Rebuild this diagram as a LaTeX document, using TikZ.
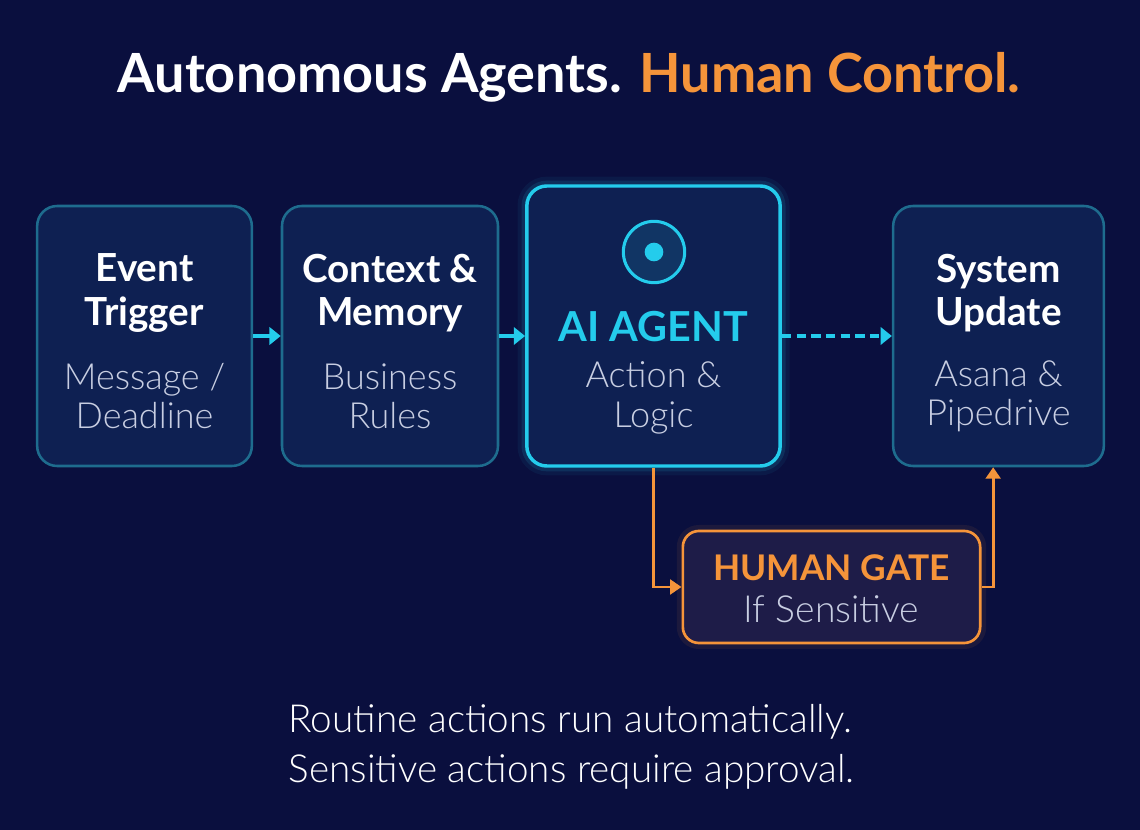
\documentclass[tikz,border=0pt]{standalone}
\usepackage{fontspec}
\setmainfont{Lato}
\newfontfamily\lightfont{Lato Light}
\usetikzlibrary{arrows.meta,positioning}

\definecolor{bgnavy}{RGB}{10,15,62}
\definecolor{cardfill}{RGB}{14,32,82}
\definecolor{cardedge}{RGB}{30,108,142}
\definecolor{aicyan}{RGB}{36,204,236}
\definecolor{accent}{RGB}{245,148,58}
\definecolor{gatefill}{RGB}{30,28,72}
\definecolor{subtext}{RGB}{200,206,226}

\begin{document}
\begin{tikzpicture}[
  x=0.75pt, y=-0.75pt,
  card/.style={draw=cardedge, fill=cardfill, line width=1.9pt, rounded corners=15pt,
               minimum width=161pt, minimum height=195pt},
  aicard/.style={card, draw=aicyan, line width=2.6pt, minimum width=190pt, minimum height=210pt,
                 preaction={draw=aicyan, line width=14pt, opacity=0.06},
                 preaction={draw=aicyan, line width=8pt, opacity=0.12}},
  gatecard/.style={draw=accent, fill=gatefill, line width=2pt, rounded corners=12pt,
                   minimum width=223pt, minimum height=84pt,
                   preaction={draw=accent, line width=9pt, opacity=0.08}},
  ttl/.style={text=white, align=center, font=\bfseries\fontsize{29}{32.5}\selectfont},
  sub/.style={text=subtext, align=center, font=\lightfont\fontsize{27}{29.5}\selectfont},
  flow/.style={aicyan, line width=3pt, -{Triangle[length=8.5pt, width=13pt]}},
  gateflow/.style={accent, line width=2.2pt, -{Triangle[length=8.5pt, width=11pt]}}
]
  \fill[bgnavy] (0,0) rectangle (1140,830);
  \useasboundingbox (0,0) rectangle (1140,830);

  % heading
  \node[text=white, font=\bfseries\fontsize{40.5}{45}\selectfont] (head) at (569,77)
    {Autonomous Agents. \textcolor{accent}{Human Control.}};

  % pipeline cards
  \node[card] (trig) at (144.5,336) {};
  \node[card, minimum width=162pt] (ctx) at (390,336) {};
  \node[aicard] (ai) at (653.5,326) {};
  \node[card, minimum width=158pt] (sys) at (998.5,336) {};
  \node[gatecard] (gate) at (831.5,587) {};

  \node[ttl] (trig-t) at (144.5,293) {Event\\Trigger};
  \node[sub] (trig-s) at (144.5,396) {Message /\\Deadline};
  \node[ttl] (ctx-t) at (390,293) {Context \&\\Memory};
  \node[sub] (ctx-s) at (390,396) {Business\\Rules};
  \node[ttl, text=aicyan, font=\bfseries\fontsize{31}{34}\selectfont] (ai-t) at (653.5,327) {AI AGENT};
  \node[sub] (ai-s) at (653.5,398) {Action \&\\Logic};
  \node[ttl] (sys-t) at (998.5,293) {System\\Update};
  \node[sub] (sys-s) at (998.5,396) {Asana \&\\Pipedrive};
  \node[ttl, text=accent, font=\bfseries\fontsize{26.5}{29}\selectfont] (gate-t) at (831.5,568) {HUMAN GATE};
  \node[sub, font=\lightfont\fontsize{28}{30}\selectfont] (gate-s) at (831.5,609) {If Sensitive};

  % agent icon
  \node[circle, draw=aicyan, line width=2.3pt, minimum size=46pt, fill=aicyan!12!cardfill] (eye) at (654,252) {};
  \node[circle, fill=aicyan, minimum size=14pt, inner sep=0pt] (pupil) at (eye.center) {};

  % connectors
  \draw[flow] (trig.east) -- (ctx.west);
  \draw[flow] (ctx.east) -- (ctx.east -| ai.west);
  \draw[flow, dash pattern=on 7pt off 4pt] (ai.east |- sys.west) -- (sys.west);
  \draw[gateflow] (ai.south) |- (gate.west);
  \draw[gateflow] (gate.east) -| ([xshift=-4pt]sys.south);

  % footnote
  \node[anchor=west, align=left, text=white, font=\lightfont\fontsize{29}{38}\selectfont] (note) at (284,747)
    {Routine actions run automatically.\\Sensitive actions require approval.};
\end{tikzpicture}
\end{document}
